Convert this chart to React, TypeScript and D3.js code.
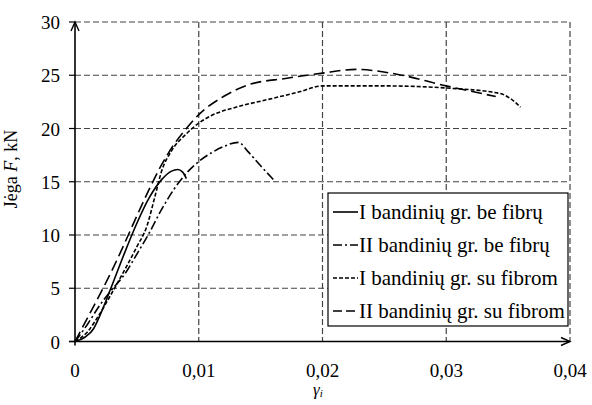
import React from "react";
import * as d3 from "d3";

const W = 592;
const H = 405;

const xTicks = [0, 0.01, 0.02, 0.03, 0.04];
const yTicks = [0, 5, 10, 15, 20, 25, 30];
const xTickLabels = ["0", "0,01", "0,02", "0,03", "0,04"];

const seriesNames = [
  "I bandinių gr. be fibrų",
  "II bandinių gr. be fibrų",
  "I bandinių gr. su fibrom",
  "II bandinių gr. su fibrom",
];

const s1: [number, number][] = [
  [0, 0], [0.0008, 0.4], [0.0015, 1.2], [0.002, 2.4], [0.003, 5.3], [0.004, 8.3],
  [0.005, 11.1], [0.006, 13.5], [0.007, 15.2], [0.0078, 16.0], [0.0083, 16.15],
  [0.0087, 15.9], [0.009, 15.3],
];
const s2: [number, number][] = [
  [0, 0], [0.001, 1.6], [0.002, 3.4], [0.003, 4.9], [0.004, 6.3], [0.005, 8.2],
  [0.006, 10.2], [0.007, 12.4], [0.008, 14.3], [0.009, 15.8], [0.01, 16.9],
  [0.011, 17.7], [0.012, 18.3], [0.0132, 18.7], [0.014, 17.8], [0.015, 16.5],
  [0.0162, 15.0],
];
const s3: [number, number][] = [
  [0, 0], [0.001, 0.9], [0.002, 2.6], [0.003, 4.6], [0.004, 6.7], [0.005, 8.9],
  [0.0058, 10.8], [0.0065, 13.8], [0.007, 16.0], [0.0078, 17.9], [0.009, 19.5],
  [0.01, 20.5], [0.011, 21.2], [0.013, 22.0], [0.0155, 22.7], [0.018, 23.4],
  [0.02, 24.0], [0.025, 24.0], [0.03, 23.8], [0.0343, 23.3], [0.0352, 22.8],
  [0.036, 22.0],
];
const s4: [number, number][] = [
  [0, 0], [0.001, 2.2], [0.002, 4.4], [0.003, 6.7], [0.004, 9.2], [0.005, 11.8],
  [0.006, 14.3], [0.007, 16.6], [0.008, 18.5], [0.009, 20.0], [0.01, 21.3],
  [0.012, 23.0], [0.014, 24.1], [0.017, 24.7], [0.02, 25.2], [0.0227, 25.55],
  [0.026, 25.1], [0.03, 24.0], [0.032, 23.5], [0.034, 23.0],
];

const seriesData = [s1, s2, s3, s4];
const dashes = ["", "9,3,2,3", "4,2", "11,5"];

export default function App() {
  const x = d3.scaleLinear().domain([0, 0.04]).range([75, 570]);
  const y = d3.scaleLinear().domain([0, 30]).range([341.5, 22]);
  const line = d3
    .line<[number, number]>()
    .x((d) => x(d[0]))
    .y((d) => y(d[1]))
    .curve(d3.curveMonotoneX);
  const font = "Liberation Serif, Times New Roman, Times, DejaVu Serif, serif";
  const x0 = x(0);
  const y0 = y(0);
  const legX = 328, legY = 193, legW = 240, legH = 133;
  const rowH = 33;
  return (
    <svg
      width={W}
      height={H}
      style={{ position: "absolute", left: 0, top: 0, background: "#fff", fontFamily: font }}
    >
      <rect width={W} height={H} fill="#fff" />
      {/* grid */}
      {yTicks.filter((t) => t > 0).map((t) => (
        <line key={"gy" + t} x1={x0} x2={x(0.04)} y1={y(t)} y2={y(t)}
          stroke="#444" strokeWidth={1.2} strokeDasharray="6,3" />
      ))}
      {xTicks.filter((t) => t > 0).map((t) => (
        <line key={"gx" + t} x1={x(t)} x2={x(t)} y1={y(30)} y2={y0}
          stroke="#444" strokeWidth={1.2} strokeDasharray="6,3" />
      ))}
      {/* series */}
      {seriesData.map((s, i) => (
        <path key={"s" + i} d={line(s) || ""} fill="none" stroke="#000"
          strokeWidth={1.6} strokeDasharray={dashes[i]} />
      ))}
      {/* axes */}
      <line x1={x0} x2={x0} y1={y0 + 4} y2={y(30)} stroke="#000" strokeWidth={1.6} />
      <line x1={x0 - 6} x2={x(0.04)} y1={y0} y2={y0} stroke="#000" strokeWidth={1.6} />
      <path d={`M${x0 - 4},${y(30) + 9} L${x0},${y(30)} L${x0 + 4},${y(30) + 9}`}
        fill="none" stroke="#000" strokeWidth={1.4} />
      <path d={`M${x(0.04) - 9},${y0 - 4} L${x(0.04)},${y0} L${x(0.04) - 9},${y0 + 4}`}
        fill="none" stroke="#000" strokeWidth={1.4} />
      {yTicks.map((t) => (
        <g key={"ty" + t}>
          <line x1={x0 - 6} x2={x0} y1={y(t)} y2={y(t)} stroke="#000" strokeWidth={1.2} />
          <text x={60} y={y(t) + 7} textAnchor="end" fontSize={19} fill="#000">{t}</text>
        </g>
      ))}
      {xTicks.map((t, i) => (
        <text key={"tx" + t} x={x(t)} y={377} textAnchor="middle" fontSize={19} fill="#000">
          {xTickLabels[i]}
        </text>
      ))}
      {/* axis titles */}
      <text transform="translate(17,169) rotate(-90)" textAnchor="middle" fontSize={18} fill="#000">
        Jėga <tspan fontStyle="italic">F</tspan>, kN
      </text>
      <text x={318} y={395} textAnchor="middle" fontSize={17} fill="#000" fontStyle="italic">
        γ<tspan fontSize={11} dy={2}>i</tspan>
      </text>
      {/* legend */}
      <rect x={legX} y={legY} width={legW} height={legH} fill="#fff" stroke="#000" strokeWidth={1.2} />
      {seriesNames.map((n, i) => {
        const cy = legY + 19 + i * rowH;
        return (
          <g key={"l" + i}>
            <line x1={legX + 5} x2={legX + 30} y1={cy} y2={cy} stroke="#000"
              strokeWidth={1.6} strokeDasharray={i === 3 ? "9,4" : dashes[i]} />
            <text x={legX + 31} y={cy + 7} fontSize={21} fill="#000">{n}</text>
          </g>
        );
      })}
    </svg>
  );
}
